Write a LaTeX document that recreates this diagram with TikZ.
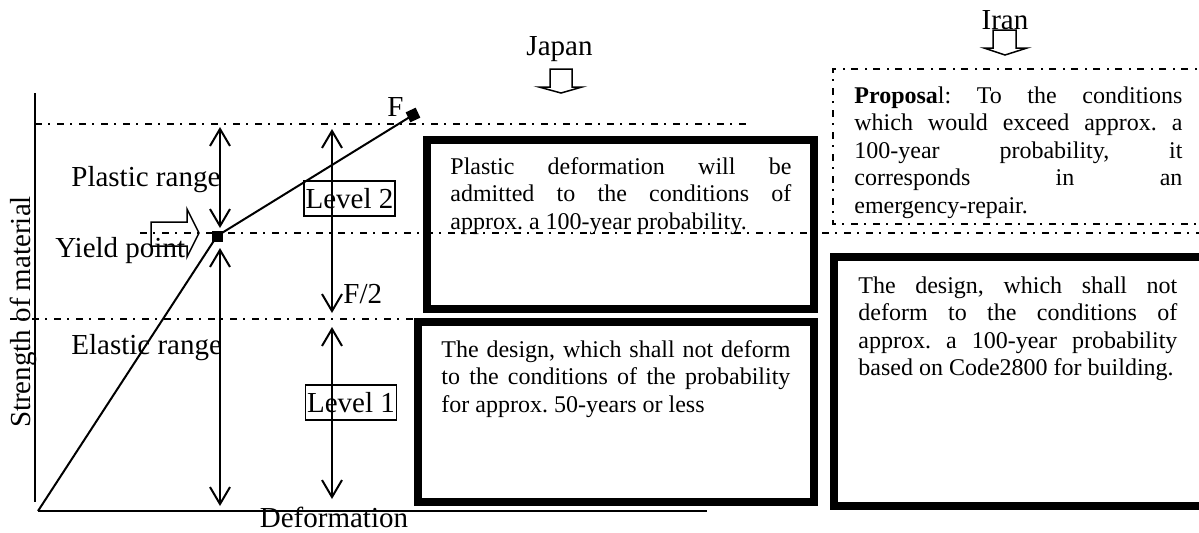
\documentclass[tikz,border=0pt]{standalone}
\usepackage{fontspec}
\setmainfont{Liberation Serif}
\usetikzlibrary{arrows.meta}
\tikzset{
  lbl/.style={font=\fontsize{14.5}{17}\selectfont, inner sep=0pt},
  boxtext/.style={font=\fontsize{12}{13.8}\selectfont, inner sep=0pt, anchor=north west, align=justify},
  dimarrow/.style={line width=1pt, {Straight Barb[length=8.5pt,width=10pt,line width=1pt]}-{Straight Barb[length=8.5pt,width=10pt,line width=1pt]}},
  dashdot/.style={line width=0.65pt, dash pattern=on 3.5pt off 3pt on 1pt off 3.5pt},
  thickbox/.style={draw, line width=4pt},
  levelbox/.style={draw, line width=0.8pt, lbl, minimum width=45.5pt, minimum height=17.5pt},
  blockarrow/.style={draw, line width=0.75pt},
  pt/.style={fill=black, inner sep=0pt, minimum size=5.5pt}
}
\newcommand{\boxpar}[2]{\parbox{#1}{\setlength{\parindent}{0pt}\frenchspacing\hyphenpenalty=10000\exhyphenpenalty=10000\strut #2}}
\begin{document}
\begin{tikzpicture}[x=0.5pt,y=-0.5pt]
\useasboundingbox (0,0) rectangle (1199,532);

% axes
\coordinate (ytop) at (35,93);
\coordinate (ybot) at (35,502);
\coordinate (o) at (38,511);
\coordinate (xend) at (707,511);
\draw[line width=1pt] (ytop) -- (ybot);
\draw[line width=1pt] (o) -- (xend);

% dash-dot reference lines
\coordinate (l1a) at (35,124);  \coordinate (l1b) at (748,124);
\coordinate (l2a) at (140,233); \coordinate (l2b) at (1199,233);
\coordinate (l3a) at (10,319);  \coordinate (l3b) at (413,319);
\draw[dashdot] (l1a) -- (l1b);
\draw[dashdot] (l2a) -- (l2b);
\draw[dashdot] (l3a) -- (l3b);

% boxes
\draw[thickbox] (427,140) rectangle (814,309);
\draw[thickbox] (418,322) rectangle (814,502);
\draw[thickbox] (834,257) rectangle (1205,506);
\draw[dashdot, line width=0.6pt] (1210,69) -- (833,69) -- (833,224) -- (1210,224);

% curve
\node[pt] (yield) at (217,236) {};
\node[pt, rotate=25] (F) at (413,115) {};
\draw[line width=1pt] (o) -- (yield.center) -- (F.center);

% dimension arrows
\coordinate (a1t) at (220,127); \coordinate (a1b) at (220,228);
\coordinate (a2t) at (220,248); \coordinate (a2b) at (220,506);
\coordinate (a3t) at (332,129); \coordinate (a3b) at (332,313);
\coordinate (a4t) at (332,327); \coordinate (a4b) at (332,499);
\draw[dimarrow] (a1t) -- (a1b);
\draw[dimarrow] (a2t) -- (a2b);
\draw[dimarrow] (a3t) -- (a3b);
\draw[dimarrow] (a4t) -- (a4b);

% block arrows
\draw[blockarrow] (151,222) -- (187,222) -- (187,209) -- (199,233) -- (187,257) -- (187,246) -- (151,246) -- cycle;
\draw[blockarrow] (550,69) -- (572,69) -- (572,87) -- (582,87) -- (561,93) -- (539,87) -- (550,87) -- cycle;
\draw[blockarrow] (993,30) -- (1016,30) -- (1016,48) -- (1027,48) -- (1005,55) -- (984,48) -- (993,48) -- cycle;

% labels
\node[lbl, anchor=base west] (plastic) at (71,186) {Plastic range};
\node[lbl, anchor=base west] (yieldlbl) at (55,257) {Yield point};
\node[lbl, anchor=base west] (elastic) at (71,354) {Elastic range};
\node[lbl, anchor=base west] (f2) at (343,303) {F/2};
\node[lbl, anchor=base west] (flbl) at (387,116) {F};
\node[levelbox] (lev2) at (349.5,198.5) {Level 2};
\node[levelbox] (lev1) at (351,402.5) {Level 1};
\node[lbl, anchor=base, rotate=90] (ylabel) at (31,312) {Strength of material};
\node[lbl, anchor=base] (xlabel) at (334,527) {Deformation};
\node[lbl, anchor=base] (japan) at (559.5,55) {Japan};
\node[lbl, anchor=base] (iran) at (1005,29) {Iran};

% box texts
\node[boxtext] (t1) at (450,154.4) {\boxpar{170.5pt}{Plastic deformation will be\linebreak admitted to the conditions of\linebreak approx. a 100-year probability.}};
\node[boxtext] (t2) at (441,337.4) {\boxpar{174.5pt}{The design, which shall not deform\linebreak to the conditions of the probability\linebreak for approx. 50-years or less}};
\node[boxtext] (t3) at (854,83.4) {\boxpar{164pt}{\textbf{Proposa}l: To the conditions\linebreak which would exceed approx. a\linebreak 100-year probability, it\linebreak corresponds in an\linebreak emergency-repair.}};
\node[boxtext] (t4) at (858,273.4) {\boxpar{159.5pt}{The design, which shall not\linebreak deform to the conditions of\linebreak approx. a 100-year probability\linebreak based on Code2800 for building.}};
\end{tikzpicture}
\end{document}
